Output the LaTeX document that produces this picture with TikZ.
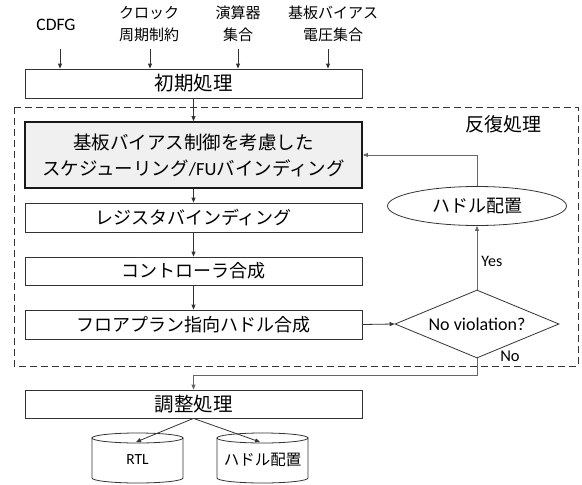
\documentclass[tikz,border=0pt]{standalone}
\usepackage{fontspec}
\setmainfont{Carlito}
\newfontfamily\jp{Noto Sans CJK JP}
\usetikzlibrary{shapes.geometric,arrows.meta,calc}
\begin{document}
\begin{tikzpicture}[x=1pt,y=-1pt,
  line width=0.8pt,
  arr/.style={draw=black!80,-{Triangle[length=5pt,width=4pt]}},
  garr/.style={draw=black!60,-{Triangle[length=5pt,width=4pt]}},
  gline/.style={draw=black!60},
  procbox/.style={draw=black!80,rectangle,minimum width=337pt,minimum height=29pt,inner sep=0pt,font=\jp\fontsize{18}{22}\selectfont},
  inlabel/.style={align=center,font=\jp\fontsize{15}{22}\selectfont,inner sep=0pt},
  cyl/.style={draw=black!80}
]
\useasboundingbox (0,0) rectangle (582,485);

% inputs
\node[inlabel,font=\fontsize{17.5}{22}\selectfont] (i1) at (56,25) {CDFG};
\node[inlabel] (i2) at (149,24) {クロック\\周期制約};
\node[inlabel] (i3) at (238,24) {演算器\\集合};
\node[inlabel] (i4) at (333,24) {基板バイアス\\電圧集合};

\node[procbox,font=\jp\fontsize{19.5}{22}\selectfont] (init) at (193.5,83.5) {初期処理};

\coordinate (c1) at (60,49);
\coordinate (c2) at (150,49);
\coordinate (c3) at (238,49);
\coordinate (c4) at (328,49);
\foreach \c in {c1,c2,c3,c4}{\draw[arr] (\c) -- (\c |- init.north);}

% iteration frame
\draw[draw=black!80,dash pattern=on 7pt off 4pt] (14,107) rectangle (578,366);
\node[font=\jp\fontsize{19}{22}\selectfont,inner sep=0pt] (iter) at (503,124) {反復処理};

\node[procbox,minimum height=66pt,line width=1.8pt,draw=black!90,fill=black!6,align=center,font=\jp\fontsize{18.5}{26}\selectfont] (sched) at (193.5,155) {基板バイアス制御を考慮した\\スケジューリング{\fontspec{Carlito}/FU}バインディング};
\node[procbox] (reg) at (193.5,217.5) {レジスタバインディング};
\node[procbox,minimum height=28pt] (ctrl) at (193.5,271) {コントローラ合成};
\node[procbox] (fp) at (193.5,324.5) {フロアプラン指向ハドル合成};

\node[draw=black!80,diamond,aspect=2.4,minimum width=164pt,minimum height=68pt,inner sep=0pt,font=\fontsize{18}{22}\selectfont] (dec) at (477,324) {No violation?};
\node[draw=black!80,ellipse,minimum width=179pt,minimum height=39pt,inner sep=0pt,font=\jp\fontsize{18}{22}\selectfont] (pl) at (477,206) {ハドル配置};

\draw[arr] (init.south) -- (sched.north);
\draw[arr] (sched.south) -- (reg.north);
\draw[arr] (reg.south) -- (ctrl.north);
\draw[arr] (ctrl.south) -- (fp.north);
\draw[arr] (fp.east) -- (dec.west);
\draw[garr] (dec.north) -- node[right=4pt,pos=0.45,font=\fontsize{16}{20}\selectfont,text=black,inner sep=0pt] (yes) {Yes} (pl.south);
\draw[garr] (pl.north) |- (sched.east);

\node[procbox,minimum height=28pt,font=\jp\fontsize{19.5}{22}\selectfont] (adj) at (193.5,404) {調整処理};
\draw[garr] (dec.south) -- ++(0,17) -| (adj.north);
\node[font=\fontsize{16.5}{20}\selectfont,inner sep=0pt] (no) at (510,356) {No};

% cylinders
\foreach \cx/\nm in {137.5/rtlc,262.5/hdc}{
  \draw[cyl] (\cx-45.5,438) -- (\cx-45.5,478) arc[start angle=180,end angle=360,x radius=45.5pt,y radius=5pt] -- (\cx+45.5,438);
  \draw[cyl] (\cx,438) ellipse[x radius=45.5pt,y radius=5pt];
}
\node[inner sep=0pt,minimum width=91pt,minimum height=50pt,font=\fontsize{15.5}{18}\selectfont] (rtl) at (137.5,460) {RTL};
\node[inner sep=0pt,minimum width=91pt,minimum height=50pt,font=\jp\fontsize{15.5}{18}\selectfont] (hd) at (262.5,460) {ハドル配置};
\coordinate (rtlt) at (136,442);
\coordinate (hdt) at (260,442);
\draw[arr] (adj.south) -- (rtlt);
\draw[arr] (adj.south) -- (hdt);
\end{tikzpicture}
\end{document}
